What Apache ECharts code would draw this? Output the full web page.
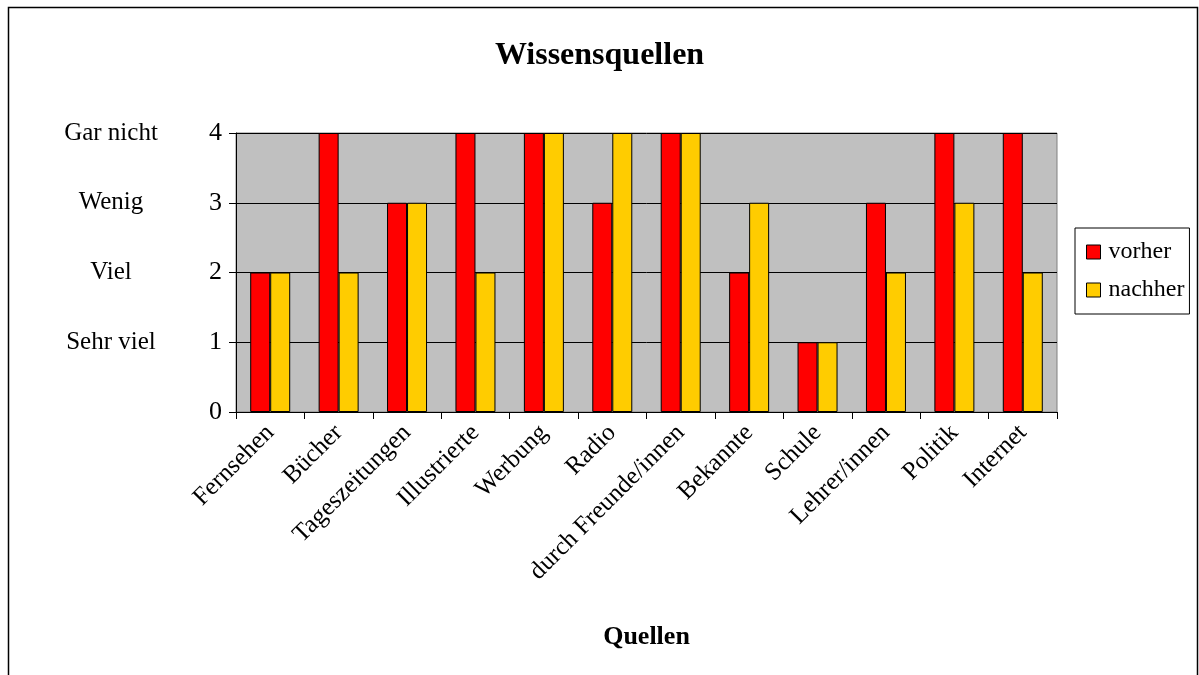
<!DOCTYPE html>
<html>
<head>
<meta charset="utf-8">
<script src="https://cdn.jsdelivr.net/npm/echarts@6/dist/echarts.min.js"></script>
<style>
  html, body { margin: 0; padding: 0; background: #fff; }
  #chart { width: 1199px; height: 675px; }
</style>
</head>
<body>
<div id="chart"></div>
<script>
const categories = ['Fernsehen', 'Bücher', 'Tageszeitungen', 'Illustrierte', 'Werbung', 'Radio',
  'durch Freunde/innen', 'Bekannte', 'Schule', 'Lehrer/innen', 'Politik', 'Internet'];
const vorher = [2, 4, 3, 4, 4, 3, 4, 2, 1, 3, 4, 4];
const nachher = [2, 2, 3, 2, 4, 4, 4, 3, 1, 2, 3, 2];
const levelNames = ['', 'Sehr viel', 'Viel', 'Wenig', 'Gar nicht'];

const font = 'Liberation Serif';
const chart = echarts.init(document.getElementById('chart'));

const option = {
  textStyle: { fontFamily: font, color: '#000' },
  title: {
    text: 'Wissensquellen',
    left: 'center', top: 35,
    textStyle: { fontFamily: font, fontSize: 32, fontWeight: 'bold', color: '#000' }
  },
  graphic: [{
    type: 'rect', silent: true,
    shape: { x: 8.5, y: 7.5, width: 1189, height: 700 },
    style: { fill: 'none', stroke: '#000', lineWidth: 1.5 }
  }],
  legend: {
    data: ['vorher', 'nachher'],
    orient: 'vertical',
    left: 1075, top: 228,
    padding: [12, 5, 12, 11],
    itemGap: 14,
    itemWidth: 14, itemHeight: 14,
    borderColor: '#000', borderWidth: 1,
    borderRadius: 0,
    icon: 'rect',
    itemStyle: { borderColor: '#000', borderWidth: 1 },
    textStyle: { fontFamily: font, fontSize: 24, color: '#000', padding: [0, 0, 0, 3] }
  },
  grid: {
    left: 236, right: 142, top: 133, bottom: 263,
    show: true, backgroundColor: '#c0c0c0', borderColor: '#808080', borderWidth: 1
  },
  xAxis: {
    type: 'category',
    data: categories,
    name: 'Quellen',
    nameLocation: 'middle',
    nameGap: 212,
    nameTextStyle: { fontFamily: font, fontSize: 26, fontWeight: 'bold', color: '#000' },
    axisLine: { lineStyle: { color: '#000', width: 1 } },
    axisTick: { show: true, length: 7, lineStyle: { color: '#000' } },
    axisLabel: { rotate: 45, interval: 0, margin: 17, fontFamily: font, fontSize: 25, color: '#000' }
  },
  yAxis: [{
    type: 'value', min: 0, max: 4, interval: 1,
    axisLine: { show: true, lineStyle: { color: '#000', width: 1 } },
    axisTick: { show: true, length: 7, lineStyle: { color: '#000' } },
    splitLine: { lineStyle: { color: '#000', width: 1 } },
    axisLabel: { fontFamily: font, fontSize: 26, color: '#000', margin: 14 }
  }, {
    type: 'value', min: 0, max: 4, interval: 1,
    position: 'left', offset: 125,
    axisLine: { show: false }, axisTick: { show: false }, splitLine: { show: false },
    axisLabel: {
      fontFamily: font, fontSize: 25, color: '#000', margin: 0,
      align: 'center',
      formatter: v => levelNames[v] || ''
    }
  }],
  series: [{
    name: 'vorher', type: 'bar', data: vorher,
    barWidth: 20, barGap: '0%',
    itemStyle: { color: '#ff0000', borderColor: '#000', borderWidth: 1 }
  }, {
    name: 'nachher', type: 'bar', data: nachher,
    barWidth: 20,
    itemStyle: { color: '#ffcc00', borderColor: '#000', borderWidth: 1 }
  }]
};

chart.setOption(option);
</script>
</body>
</html>
